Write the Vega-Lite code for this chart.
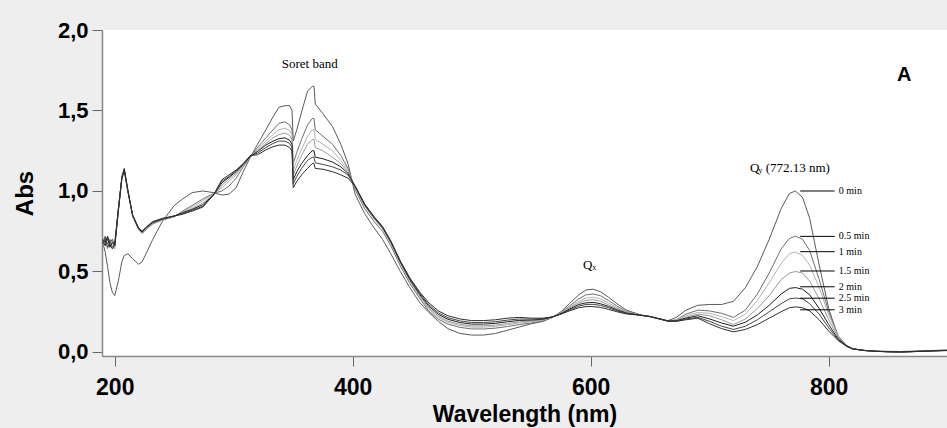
{
"$schema":"https://vega.github.io/schema/vega-lite/v6.json",
"width":845,"height":326,
"autosize":{"type":"none"},
"padding":{"left":102,"top":30,"right":0,"bottom":72},
"background":"#eeeeee",
"config":{"view":{"fill":"white","stroke":null},"font":"Liberation Sans"},
"datasets":{
"spectra":[
{"m":0,"w":190,"a":0.68},{"m":0,"w":192,"a":0.62},{"m":0,"w":194,"a":0.53},{"m":0,"w":196,"a":0.43},{"m":0,"w":198,"a":0.37},{"m":0,"w":200,"a":0.35},{"m":0,"w":203,"a":0.44},{"m":0,"w":206,"a":0.56},{"m":0,"w":208,"a":0.60},{"m":0,"w":211,"a":0.61},{"m":0,"w":215,"a":0.58},{"m":0,"w":220,"a":0.545},{"m":0,"w":223,"a":0.56},{"m":0,"w":227,"a":0.62},{"m":0,"w":232,"a":0.70},{"m":0,"w":240,"a":0.81},{"m":0,"w":250,"a":0.91},{"m":0,"w":257,"a":0.95},{"m":0,"w":265,"a":0.99},{"m":0,"w":274,"a":1.00},{"m":0,"w":283,"a":0.99},{"m":0,"w":290,"a":0.975},{"m":0,"w":296,"a":0.98},{"m":0,"w":302,"a":1.02},{"m":0,"w":308,"a":1.12},{"m":0,"w":314,"a":1.21},{"m":0,"w":320,"a":1.29},{"m":0,"w":327,"a":1.38},{"m":0,"w":333,"a":1.46},{"m":0,"w":338,"a":1.52},{"m":0,"w":343,"a":1.53},{"m":0,"w":347,"a":1.53},{"m":0,"w":349,"a":1.50},{"m":0,"w":350,"a":1.31},{"m":0,"w":353,"a":1.38},{"m":0,"w":357,"a":1.49},{"m":0,"w":362,"a":1.62},{"m":0,"w":366,"a":1.65},{"m":0,"w":367.5,"a":1.65},{"m":0,"w":368.5,"a":1.54},{"m":0,"w":375,"a":1.48},{"m":0,"w":383,"a":1.40},{"m":0,"w":390,"a":1.29},{"m":0,"w":396,"a":1.17},{"m":0,"w":402,"a":0.98},{"m":0,"w":410,"a":0.86},{"m":0,"w":418,"a":0.77},{"m":0,"w":425,"a":0.70},{"m":0,"w":432,"a":0.61},{"m":0,"w":440,"a":0.50},{"m":0,"w":448,"a":0.40},{"m":0,"w":456,"a":0.31},{"m":0,"w":464,"a":0.245},{"m":0,"w":472,"a":0.19},{"m":0,"w":480,"a":0.145},{"m":0,"w":490,"a":0.115},{"m":0,"w":500,"a":0.105},{"m":0,"w":510,"a":0.105},{"m":0,"w":520,"a":0.115},{"m":0,"w":530,"a":0.135},{"m":0,"w":540,"a":0.155},{"m":0,"w":550,"a":0.175},{"m":0,"w":560,"a":0.19},{"m":0,"w":568,"a":0.215},{"m":0,"w":575,"a":0.25},{"m":0,"w":582,"a":0.30},{"m":0,"w":590,"a":0.355},{"m":0,"w":596,"a":0.385},{"m":0,"w":602,"a":0.39},{"m":0,"w":608,"a":0.375},{"m":0,"w":615,"a":0.34},{"m":0,"w":622,"a":0.30},{"m":0,"w":630,"a":0.26},{"m":0,"w":640,"a":0.235},{"m":0,"w":650,"a":0.218},{"m":0,"w":658,"a":0.205},{"m":0,"w":665,"a":0.195},{"m":0,"w":672,"a":0.215},{"m":0,"w":680,"a":0.26},{"m":0,"w":690,"a":0.29},{"m":0,"w":700,"a":0.295},{"m":0,"w":710,"a":0.295},{"m":0,"w":720,"a":0.315},{"m":0,"w":730,"a":0.40},{"m":0,"w":740,"a":0.53},{"m":0,"w":750,"a":0.70},{"m":0,"w":760,"a":0.89},{"m":0,"w":767,"a":0.985},{"m":0,"w":772,"a":1.00},{"m":0,"w":778,"a":0.96},{"m":0,"w":784,"a":0.83},{"m":0,"w":792,"a":0.54},{"m":0,"w":800,"a":0.27},{"m":0,"w":808,"a":0.09},{"m":0,"w":815,"a":0.035},{"m":0,"w":820,"a":0.018},{"m":0,"w":830,"a":0.01},{"m":0,"w":840,"a":0.006},{"m":0,"w":850,"a":0.004},{"m":0,"w":860,"a":0.003},{"m":0,"w":870,"a":0.005},{"m":0,"w":880,"a":0.008},{"m":0,"w":890,"a":0.01},{"m":0,"w":900,"a":0.012},
{"m":0.5,"w":190,"a":0.69},{"m":0.5,"w":192,"a":0.72},{"m":0.5,"w":194,"a":0.67},{"m":0.5,"w":196,"a":0.70},{"m":0.5,"w":198,"a":0.65},{"m":0.5,"w":200,"a":0.67},{"m":0.5,"w":203,"a":0.89},{"m":0.5,"w":206,"a":1.08},{"m":0.5,"w":208,"a":1.13},{"m":0.5,"w":211,"a":1.00},{"m":0.5,"w":215,"a":0.85},{"m":0.5,"w":220,"a":0.765},{"m":0.5,"w":223,"a":0.74},{"m":0.5,"w":227,"a":0.765},{"m":0.5,"w":232,"a":0.795},{"m":0.5,"w":240,"a":0.82},{"m":0.5,"w":250,"a":0.84},{"m":0.5,"w":257,"a":0.875},{"m":0.5,"w":265,"a":0.91},{"m":0.5,"w":274,"a":0.95},{"m":0.5,"w":283,"a":0.985},{"m":0.5,"w":290,"a":1.00},{"m":0.5,"w":296,"a":1.03},{"m":0.5,"w":302,"a":1.08},{"m":0.5,"w":308,"a":1.15},{"m":0.5,"w":314,"a":1.21},{"m":0.5,"w":320,"a":1.27},{"m":0.5,"w":327,"a":1.33},{"m":0.5,"w":333,"a":1.38},{"m":0.5,"w":338,"a":1.42},{"m":0.5,"w":343,"a":1.43},{"m":0.5,"w":347,"a":1.41},{"m":0.5,"w":349,"a":1.38},{"m":0.5,"w":350,"a":1.17},{"m":0.5,"w":353,"a":1.24},{"m":0.5,"w":357,"a":1.32},{"m":0.5,"w":362,"a":1.41},{"m":0.5,"w":366,"a":1.45},{"m":0.5,"w":367.5,"a":1.45},{"m":0.5,"w":368.5,"a":1.38},{"m":0.5,"w":375,"a":1.34},{"m":0.5,"w":383,"a":1.29},{"m":0.5,"w":390,"a":1.22},{"m":0.5,"w":396,"a":1.14},{"m":0.5,"w":402,"a":1.01},{"m":0.5,"w":410,"a":0.89},{"m":0.5,"w":418,"a":0.81},{"m":0.5,"w":425,"a":0.75},{"m":0.5,"w":432,"a":0.66},{"m":0.5,"w":440,"a":0.535},{"m":0.5,"w":448,"a":0.425},{"m":0.5,"w":456,"a":0.335},{"m":0.5,"w":464,"a":0.253},{"m":0.5,"w":472,"a":0.203},{"m":0.5,"w":480,"a":0.173},{"m":0.5,"w":490,"a":0.153},{"m":0.5,"w":500,"a":0.143},{"m":0.5,"w":510,"a":0.143},{"m":0.5,"w":520,"a":0.148},{"m":0.5,"w":530,"a":0.158},{"m":0.5,"w":540,"a":0.17},{"m":0.5,"w":550,"a":0.18},{"m":0.5,"w":560,"a":0.195},{"m":0.5,"w":568,"a":0.218},{"m":0.5,"w":575,"a":0.245},{"m":0.5,"w":582,"a":0.285},{"m":0.5,"w":590,"a":0.33},{"m":0.5,"w":596,"a":0.355},{"m":0.5,"w":602,"a":0.36},{"m":0.5,"w":608,"a":0.35},{"m":0.5,"w":615,"a":0.32},{"m":0.5,"w":622,"a":0.285},{"m":0.5,"w":630,"a":0.252},{"m":0.5,"w":640,"a":0.23},{"m":0.5,"w":650,"a":0.22},{"m":0.5,"w":658,"a":0.205},{"m":0.5,"w":665,"a":0.192},{"m":0.5,"w":672,"a":0.20},{"m":0.5,"w":680,"a":0.235},{"m":0.5,"w":690,"a":0.26},{"m":0.5,"w":700,"a":0.255},{"m":0.5,"w":710,"a":0.24},{"m":0.5,"w":720,"a":0.215},{"m":0.5,"w":730,"a":0.26},{"m":0.5,"w":740,"a":0.36},{"m":0.5,"w":750,"a":0.49},{"m":0.5,"w":760,"a":0.64},{"m":0.5,"w":767,"a":0.705},{"m":0.5,"w":772,"a":0.72},{"m":0.5,"w":778,"a":0.70},{"m":0.5,"w":784,"a":0.63},{"m":0.5,"w":792,"a":0.45},{"m":0.5,"w":800,"a":0.25},{"m":0.5,"w":808,"a":0.10},{"m":0.5,"w":815,"a":0.04},{"m":0.5,"w":820,"a":0.02},{"m":0.5,"w":830,"a":0.01},{"m":0.5,"w":840,"a":0.005},{"m":0.5,"w":850,"a":0.002},{"m":0.5,"w":860,"a":0.001},{"m":0.5,"w":870,"a":0.003},{"m":0.5,"w":880,"a":0.006},{"m":0.5,"w":890,"a":0.009},{"m":0.5,"w":900,"a":0.011},
{"m":1,"w":190,"a":0.71},{"m":1,"w":192,"a":0.67},{"m":1,"w":194,"a":0.70},{"m":1,"w":196,"a":0.66},{"m":1,"w":198,"a":0.69},{"m":1,"w":200,"a":0.65},{"m":1,"w":203,"a":0.87},{"m":1,"w":206,"a":1.07},{"m":1,"w":208,"a":1.12},{"m":1,"w":211,"a":1.00},{"m":1,"w":215,"a":0.85},{"m":1,"w":220,"a":0.77},{"m":1,"w":223,"a":0.745},{"m":1,"w":227,"a":0.77},{"m":1,"w":232,"a":0.80},{"m":1,"w":240,"a":0.82},{"m":1,"w":250,"a":0.84},{"m":1,"w":257,"a":0.87},{"m":1,"w":265,"a":0.90},{"m":1,"w":274,"a":0.94},{"m":1,"w":283,"a":0.98},{"m":1,"w":290,"a":1.02},{"m":1,"w":296,"a":1.06},{"m":1,"w":302,"a":1.10},{"m":1,"w":308,"a":1.16},{"m":1,"w":314,"a":1.21},{"m":1,"w":320,"a":1.26},{"m":1,"w":327,"a":1.31},{"m":1,"w":333,"a":1.35},{"m":1,"w":338,"a":1.38},{"m":1,"w":343,"a":1.39},{"m":1,"w":347,"a":1.375},{"m":1,"w":349,"a":1.35},{"m":1,"w":350,"a":1.13},{"m":1,"w":353,"a":1.19},{"m":1,"w":357,"a":1.26},{"m":1,"w":362,"a":1.34},{"m":1,"w":366,"a":1.38},{"m":1,"w":367.5,"a":1.38},{"m":1,"w":368.5,"a":1.32},{"m":1,"w":375,"a":1.29},{"m":1,"w":383,"a":1.25},{"m":1,"w":390,"a":1.19},{"m":1,"w":396,"a":1.13},{"m":1,"w":402,"a":1.02},{"m":1,"w":410,"a":0.905},{"m":1,"w":418,"a":0.825},{"m":1,"w":425,"a":0.765},{"m":1,"w":432,"a":0.675},{"m":1,"w":440,"a":0.55},{"m":1,"w":448,"a":0.438},{"m":1,"w":456,"a":0.345},{"m":1,"w":464,"a":0.264},{"m":1,"w":472,"a":0.214},{"m":1,"w":480,"a":0.184},{"m":1,"w":490,"a":0.164},{"m":1,"w":500,"a":0.154},{"m":1,"w":510,"a":0.154},{"m":1,"w":520,"a":0.159},{"m":1,"w":530,"a":0.169},{"m":1,"w":540,"a":0.18},{"m":1,"w":550,"a":0.187},{"m":1,"w":560,"a":0.198},{"m":1,"w":568,"a":0.218},{"m":1,"w":575,"a":0.243},{"m":1,"w":582,"a":0.278},{"m":1,"w":590,"a":0.315},{"m":1,"w":596,"a":0.335},{"m":1,"w":602,"a":0.34},{"m":1,"w":608,"a":0.33},{"m":1,"w":615,"a":0.305},{"m":1,"w":622,"a":0.275},{"m":1,"w":630,"a":0.248},{"m":1,"w":640,"a":0.23},{"m":1,"w":650,"a":0.22},{"m":1,"w":658,"a":0.205},{"m":1,"w":665,"a":0.192},{"m":1,"w":672,"a":0.198},{"m":1,"w":680,"a":0.225},{"m":1,"w":690,"a":0.245},{"m":1,"w":700,"a":0.24},{"m":1,"w":710,"a":0.22},{"m":1,"w":720,"a":0.195},{"m":1,"w":730,"a":0.235},{"m":1,"w":740,"a":0.32},{"m":1,"w":750,"a":0.43},{"m":1,"w":760,"a":0.55},{"m":1,"w":767,"a":0.61},{"m":1,"w":772,"a":0.62},{"m":1,"w":778,"a":0.60},{"m":1,"w":784,"a":0.54},{"m":1,"w":792,"a":0.40},{"m":1,"w":800,"a":0.23},{"m":1,"w":808,"a":0.095},{"m":1,"w":815,"a":0.04},{"m":1,"w":820,"a":0.02},{"m":1,"w":830,"a":0.009},{"m":1,"w":840,"a":0.004},{"m":1,"w":850,"a":0.001},{"m":1,"w":860,"a":0.0},{"m":1,"w":870,"a":0.002},{"m":1,"w":880,"a":0.005},{"m":1,"w":890,"a":0.008},{"m":1,"w":900,"a":0.01},
{"m":1.5,"w":190,"a":0.66},{"m":1.5,"w":192,"a":0.70},{"m":1.5,"w":194,"a":0.64},{"m":1.5,"w":196,"a":0.69},{"m":1.5,"w":198,"a":0.66},{"m":1.5,"w":200,"a":0.64},{"m":1.5,"w":203,"a":0.88},{"m":1.5,"w":206,"a":1.08},{"m":1.5,"w":208,"a":1.13},{"m":1.5,"w":211,"a":1.00},{"m":1.5,"w":215,"a":0.84},{"m":1.5,"w":220,"a":0.76},{"m":1.5,"w":223,"a":0.735},{"m":1.5,"w":227,"a":0.765},{"m":1.5,"w":232,"a":0.80},{"m":1.5,"w":240,"a":0.82},{"m":1.5,"w":250,"a":0.84},{"m":1.5,"w":257,"a":0.865},{"m":1.5,"w":265,"a":0.89},{"m":1.5,"w":274,"a":0.925},{"m":1.5,"w":283,"a":0.975},{"m":1.5,"w":290,"a":1.035},{"m":1.5,"w":296,"a":1.075},{"m":1.5,"w":302,"a":1.11},{"m":1.5,"w":308,"a":1.16},{"m":1.5,"w":314,"a":1.21},{"m":1.5,"w":320,"a":1.25},{"m":1.5,"w":327,"a":1.295},{"m":1.5,"w":333,"a":1.33},{"m":1.5,"w":338,"a":1.35},{"m":1.5,"w":343,"a":1.36},{"m":1.5,"w":347,"a":1.345},{"m":1.5,"w":349,"a":1.32},{"m":1.5,"w":350,"a":1.10},{"m":1.5,"w":353,"a":1.155},{"m":1.5,"w":357,"a":1.22},{"m":1.5,"w":362,"a":1.29},{"m":1.5,"w":366,"a":1.32},{"m":1.5,"w":367.5,"a":1.32},{"m":1.5,"w":368.5,"a":1.27},{"m":1.5,"w":375,"a":1.25},{"m":1.5,"w":383,"a":1.21},{"m":1.5,"w":390,"a":1.17},{"m":1.5,"w":396,"a":1.12},{"m":1.5,"w":402,"a":1.03},{"m":1.5,"w":410,"a":0.91},{"m":1.5,"w":418,"a":0.83},{"m":1.5,"w":425,"a":0.77},{"m":1.5,"w":432,"a":0.68},{"m":1.5,"w":440,"a":0.555},{"m":1.5,"w":448,"a":0.444},{"m":1.5,"w":456,"a":0.353},{"m":1.5,"w":464,"a":0.272},{"m":1.5,"w":472,"a":0.222},{"m":1.5,"w":480,"a":0.192},{"m":1.5,"w":490,"a":0.172},{"m":1.5,"w":500,"a":0.162},{"m":1.5,"w":510,"a":0.162},{"m":1.5,"w":520,"a":0.167},{"m":1.5,"w":530,"a":0.177},{"m":1.5,"w":540,"a":0.187},{"m":1.5,"w":550,"a":0.192},{"m":1.5,"w":560,"a":0.201},{"m":1.5,"w":568,"a":0.218},{"m":1.5,"w":575,"a":0.24},{"m":1.5,"w":582,"a":0.272},{"m":1.5,"w":590,"a":0.305},{"m":1.5,"w":596,"a":0.32},{"m":1.5,"w":602,"a":0.325},{"m":1.5,"w":608,"a":0.315},{"m":1.5,"w":615,"a":0.293},{"m":1.5,"w":622,"a":0.268},{"m":1.5,"w":630,"a":0.245},{"m":1.5,"w":640,"a":0.23},{"m":1.5,"w":650,"a":0.22},{"m":1.5,"w":658,"a":0.205},{"m":1.5,"w":665,"a":0.192},{"m":1.5,"w":672,"a":0.196},{"m":1.5,"w":680,"a":0.215},{"m":1.5,"w":690,"a":0.235},{"m":1.5,"w":700,"a":0.225},{"m":1.5,"w":710,"a":0.20},{"m":1.5,"w":720,"a":0.17},{"m":1.5,"w":730,"a":0.205},{"m":1.5,"w":740,"a":0.27},{"m":1.5,"w":750,"a":0.35},{"m":1.5,"w":760,"a":0.45},{"m":1.5,"w":767,"a":0.49},{"m":1.5,"w":772,"a":0.50},{"m":1.5,"w":778,"a":0.49},{"m":1.5,"w":784,"a":0.44},{"m":1.5,"w":792,"a":0.33},{"m":1.5,"w":800,"a":0.20},{"m":1.5,"w":808,"a":0.09},{"m":1.5,"w":815,"a":0.04},{"m":1.5,"w":820,"a":0.02},{"m":1.5,"w":830,"a":0.009},{"m":1.5,"w":840,"a":0.004},{"m":1.5,"w":850,"a":0.002},{"m":1.5,"w":860,"a":0.001},{"m":1.5,"w":870,"a":0.003},{"m":1.5,"w":880,"a":0.005},{"m":1.5,"w":890,"a":0.008},{"m":1.5,"w":900,"a":0.01},
{"m":2,"w":190,"a":0.69},{"m":2,"w":192,"a":0.66},{"m":2,"w":194,"a":0.71},{"m":2,"w":196,"a":0.65},{"m":2,"w":198,"a":0.68},{"m":2,"w":200,"a":0.66},{"m":2,"w":203,"a":0.88},{"m":2,"w":206,"a":1.09},{"m":2,"w":208,"a":1.14},{"m":2,"w":211,"a":1.01},{"m":2,"w":215,"a":0.85},{"m":2,"w":220,"a":0.765},{"m":2,"w":223,"a":0.745},{"m":2,"w":227,"a":0.775},{"m":2,"w":232,"a":0.805},{"m":2,"w":240,"a":0.825},{"m":2,"w":250,"a":0.845},{"m":2,"w":257,"a":0.865},{"m":2,"w":265,"a":0.885},{"m":2,"w":274,"a":0.915},{"m":2,"w":283,"a":0.975},{"m":2,"w":290,"a":1.05},{"m":2,"w":296,"a":1.085},{"m":2,"w":302,"a":1.12},{"m":2,"w":308,"a":1.165},{"m":2,"w":314,"a":1.215},{"m":2,"w":320,"a":1.245},{"m":2,"w":327,"a":1.285},{"m":2,"w":333,"a":1.31},{"m":2,"w":338,"a":1.325},{"m":2,"w":343,"a":1.33},{"m":2,"w":347,"a":1.315},{"m":2,"w":349,"a":1.29},{"m":2,"w":350,"a":1.07},{"m":2,"w":353,"a":1.12},{"m":2,"w":357,"a":1.17},{"m":2,"w":362,"a":1.22},{"m":2,"w":366,"a":1.25},{"m":2,"w":367.5,"a":1.25},{"m":2,"w":368.5,"a":1.21},{"m":2,"w":375,"a":1.20},{"m":2,"w":383,"a":1.18},{"m":2,"w":390,"a":1.15},{"m":2,"w":396,"a":1.11},{"m":2,"w":402,"a":1.03},{"m":2,"w":410,"a":0.914},{"m":2,"w":418,"a":0.834},{"m":2,"w":425,"a":0.774},{"m":2,"w":432,"a":0.684},{"m":2,"w":440,"a":0.559},{"m":2,"w":448,"a":0.45},{"m":2,"w":456,"a":0.36},{"m":2,"w":464,"a":0.283},{"m":2,"w":472,"a":0.233},{"m":2,"w":480,"a":0.203},{"m":2,"w":490,"a":0.183},{"m":2,"w":500,"a":0.173},{"m":2,"w":510,"a":0.173},{"m":2,"w":520,"a":0.178},{"m":2,"w":530,"a":0.188},{"m":2,"w":540,"a":0.196},{"m":2,"w":550,"a":0.198},{"m":2,"w":560,"a":0.204},{"m":2,"w":568,"a":0.218},{"m":2,"w":575,"a":0.238},{"m":2,"w":582,"a":0.266},{"m":2,"w":590,"a":0.295},{"m":2,"w":596,"a":0.305},{"m":2,"w":602,"a":0.308},{"m":2,"w":608,"a":0.30},{"m":2,"w":615,"a":0.283},{"m":2,"w":622,"a":0.262},{"m":2,"w":630,"a":0.242},{"m":2,"w":640,"a":0.23},{"m":2,"w":650,"a":0.22},{"m":2,"w":658,"a":0.205},{"m":2,"w":665,"a":0.192},{"m":2,"w":672,"a":0.194},{"m":2,"w":680,"a":0.21},{"m":2,"w":690,"a":0.225},{"m":2,"w":700,"a":0.205},{"m":2,"w":710,"a":0.18},{"m":2,"w":720,"a":0.16},{"m":2,"w":730,"a":0.185},{"m":2,"w":740,"a":0.23},{"m":2,"w":750,"a":0.29},{"m":2,"w":760,"a":0.36},{"m":2,"w":767,"a":0.395},{"m":2,"w":772,"a":0.40},{"m":2,"w":778,"a":0.39},{"m":2,"w":784,"a":0.355},{"m":2,"w":792,"a":0.27},{"m":2,"w":800,"a":0.17},{"m":2,"w":808,"a":0.08},{"m":2,"w":815,"a":0.04},{"m":2,"w":820,"a":0.02},{"m":2,"w":830,"a":0.009},{"m":2,"w":840,"a":0.004},{"m":2,"w":850,"a":0.002},{"m":2,"w":860,"a":0.0},{"m":2,"w":870,"a":0.002},{"m":2,"w":880,"a":0.005},{"m":2,"w":890,"a":0.008},{"m":2,"w":900,"a":0.01},
{"m":2.5,"w":190,"a":0.67},{"m":2.5,"w":192,"a":0.71},{"m":2.5,"w":194,"a":0.65},{"m":2.5,"w":196,"a":0.68},{"m":2.5,"w":198,"a":0.70},{"m":2.5,"w":200,"a":0.66},{"m":2.5,"w":203,"a":0.87},{"m":2.5,"w":206,"a":1.08},{"m":2.5,"w":208,"a":1.13},{"m":2.5,"w":211,"a":1.00},{"m":2.5,"w":215,"a":0.85},{"m":2.5,"w":220,"a":0.77},{"m":2.5,"w":223,"a":0.75},{"m":2.5,"w":227,"a":0.775},{"m":2.5,"w":232,"a":0.805},{"m":2.5,"w":240,"a":0.825},{"m":2.5,"w":250,"a":0.845},{"m":2.5,"w":257,"a":0.86},{"m":2.5,"w":265,"a":0.88},{"m":2.5,"w":274,"a":0.905},{"m":2.5,"w":283,"a":0.975},{"m":2.5,"w":290,"a":1.06},{"m":2.5,"w":296,"a":1.09},{"m":2.5,"w":302,"a":1.125},{"m":2.5,"w":308,"a":1.17},{"m":2.5,"w":314,"a":1.22},{"m":2.5,"w":320,"a":1.235},{"m":2.5,"w":327,"a":1.27},{"m":2.5,"w":333,"a":1.295},{"m":2.5,"w":338,"a":1.31},{"m":2.5,"w":343,"a":1.31},{"m":2.5,"w":347,"a":1.295},{"m":2.5,"w":349,"a":1.27},{"m":2.5,"w":350,"a":1.045},{"m":2.5,"w":353,"a":1.09},{"m":2.5,"w":357,"a":1.14},{"m":2.5,"w":362,"a":1.19},{"m":2.5,"w":366,"a":1.21},{"m":2.5,"w":367.5,"a":1.21},{"m":2.5,"w":368.5,"a":1.175},{"m":2.5,"w":375,"a":1.165},{"m":2.5,"w":383,"a":1.15},{"m":2.5,"w":390,"a":1.13},{"m":2.5,"w":396,"a":1.10},{"m":2.5,"w":402,"a":1.03},{"m":2.5,"w":410,"a":0.917},{"m":2.5,"w":418,"a":0.837},{"m":2.5,"w":425,"a":0.777},{"m":2.5,"w":432,"a":0.687},{"m":2.5,"w":440,"a":0.562},{"m":2.5,"w":448,"a":0.455},{"m":2.5,"w":456,"a":0.367},{"m":2.5,"w":464,"a":0.293},{"m":2.5,"w":472,"a":0.243},{"m":2.5,"w":480,"a":0.213},{"m":2.5,"w":490,"a":0.193},{"m":2.5,"w":500,"a":0.183},{"m":2.5,"w":510,"a":0.183},{"m":2.5,"w":520,"a":0.188},{"m":2.5,"w":530,"a":0.198},{"m":2.5,"w":540,"a":0.205},{"m":2.5,"w":550,"a":0.204},{"m":2.5,"w":560,"a":0.207},{"m":2.5,"w":568,"a":0.218},{"m":2.5,"w":575,"a":0.236},{"m":2.5,"w":582,"a":0.26},{"m":2.5,"w":590,"a":0.285},{"m":2.5,"w":596,"a":0.295},{"m":2.5,"w":602,"a":0.296},{"m":2.5,"w":608,"a":0.29},{"m":2.5,"w":615,"a":0.275},{"m":2.5,"w":622,"a":0.256},{"m":2.5,"w":630,"a":0.239},{"m":2.5,"w":640,"a":0.23},{"m":2.5,"w":650,"a":0.22},{"m":2.5,"w":658,"a":0.205},{"m":2.5,"w":665,"a":0.192},{"m":2.5,"w":672,"a":0.192},{"m":2.5,"w":680,"a":0.205},{"m":2.5,"w":690,"a":0.215},{"m":2.5,"w":700,"a":0.19},{"m":2.5,"w":710,"a":0.16},{"m":2.5,"w":720,"a":0.14},{"m":2.5,"w":730,"a":0.16},{"m":2.5,"w":740,"a":0.20},{"m":2.5,"w":750,"a":0.25},{"m":2.5,"w":760,"a":0.30},{"m":2.5,"w":767,"a":0.33},{"m":2.5,"w":772,"a":0.335},{"m":2.5,"w":778,"a":0.33},{"m":2.5,"w":784,"a":0.30},{"m":2.5,"w":792,"a":0.235},{"m":2.5,"w":800,"a":0.15},{"m":2.5,"w":808,"a":0.075},{"m":2.5,"w":815,"a":0.038},{"m":2.5,"w":820,"a":0.02},{"m":2.5,"w":830,"a":0.009},{"m":2.5,"w":840,"a":0.004},{"m":2.5,"w":850,"a":0.001},{"m":2.5,"w":860,"a":0.0},{"m":2.5,"w":870,"a":0.002},{"m":2.5,"w":880,"a":0.005},{"m":2.5,"w":890,"a":0.007},{"m":2.5,"w":900,"a":0.009},
{"m":3,"w":190,"a":0.70},{"m":3,"w":192,"a":0.68},{"m":3,"w":194,"a":0.72},{"m":3,"w":196,"a":0.67},{"m":3,"w":198,"a":0.64},{"m":3,"w":200,"a":0.67},{"m":3,"w":203,"a":0.88},{"m":3,"w":206,"a":1.08},{"m":3,"w":208,"a":1.13},{"m":3,"w":211,"a":1.00},{"m":3,"w":215,"a":0.85},{"m":3,"w":220,"a":0.77},{"m":3,"w":223,"a":0.75},{"m":3,"w":227,"a":0.78},{"m":3,"w":232,"a":0.81},{"m":3,"w":240,"a":0.83},{"m":3,"w":250,"a":0.845},{"m":3,"w":257,"a":0.855},{"m":3,"w":265,"a":0.875},{"m":3,"w":274,"a":0.90},{"m":3,"w":283,"a":0.975},{"m":3,"w":290,"a":1.07},{"m":3,"w":296,"a":1.10},{"m":3,"w":302,"a":1.13},{"m":3,"w":308,"a":1.17},{"m":3,"w":314,"a":1.22},{"m":3,"w":320,"a":1.225},{"m":3,"w":327,"a":1.255},{"m":3,"w":333,"a":1.275},{"m":3,"w":338,"a":1.285},{"m":3,"w":343,"a":1.285},{"m":3,"w":347,"a":1.27},{"m":3,"w":349,"a":1.245},{"m":3,"w":350,"a":1.02},{"m":3,"w":353,"a":1.06},{"m":3,"w":357,"a":1.10},{"m":3,"w":362,"a":1.14},{"m":3,"w":366,"a":1.17},{"m":3,"w":367.5,"a":1.17},{"m":3,"w":368.5,"a":1.14},{"m":3,"w":375,"a":1.135},{"m":3,"w":383,"a":1.12},{"m":3,"w":390,"a":1.10},{"m":3,"w":396,"a":1.08},{"m":3,"w":402,"a":1.03},{"m":3,"w":410,"a":0.92},{"m":3,"w":418,"a":0.84},{"m":3,"w":425,"a":0.78},{"m":3,"w":432,"a":0.69},{"m":3,"w":440,"a":0.565},{"m":3,"w":448,"a":0.46},{"m":3,"w":456,"a":0.375},{"m":3,"w":464,"a":0.305},{"m":3,"w":472,"a":0.255},{"m":3,"w":480,"a":0.225},{"m":3,"w":490,"a":0.205},{"m":3,"w":500,"a":0.195},{"m":3,"w":510,"a":0.195},{"m":3,"w":520,"a":0.20},{"m":3,"w":530,"a":0.21},{"m":3,"w":540,"a":0.215},{"m":3,"w":550,"a":0.21},{"m":3,"w":560,"a":0.21},{"m":3,"w":568,"a":0.218},{"m":3,"w":575,"a":0.235},{"m":3,"w":582,"a":0.255},{"m":3,"w":590,"a":0.275},{"m":3,"w":596,"a":0.282},{"m":3,"w":602,"a":0.282},{"m":3,"w":608,"a":0.277},{"m":3,"w":615,"a":0.265},{"m":3,"w":622,"a":0.25},{"m":3,"w":630,"a":0.236},{"m":3,"w":640,"a":0.23},{"m":3,"w":650,"a":0.22},{"m":3,"w":658,"a":0.205},{"m":3,"w":665,"a":0.192},{"m":3,"w":672,"a":0.19},{"m":3,"w":680,"a":0.20},{"m":3,"w":690,"a":0.21},{"m":3,"w":700,"a":0.175},{"m":3,"w":710,"a":0.145},{"m":3,"w":720,"a":0.125},{"m":3,"w":730,"a":0.14},{"m":3,"w":740,"a":0.17},{"m":3,"w":750,"a":0.21},{"m":3,"w":760,"a":0.25},{"m":3,"w":767,"a":0.275},{"m":3,"w":772,"a":0.28},{"m":3,"w":778,"a":0.275},{"m":3,"w":784,"a":0.255},{"m":3,"w":792,"a":0.20},{"m":3,"w":800,"a":0.13},{"m":3,"w":808,"a":0.07},{"m":3,"w":815,"a":0.035},{"m":3,"w":820,"a":0.02},{"m":3,"w":830,"a":0.009},{"m":3,"w":840,"a":0.004},{"m":3,"w":850,"a":0.001},{"m":3,"w":860,"a":0.0},{"m":3,"w":870,"a":0.002},{"m":3,"w":880,"a":0.004},{"m":3,"w":890,"a":0.007},{"m":3,"w":900,"a":0.009}
],
"labels":[
{"lab":"0 min","a":1.0},{"lab":"0.5 min","a":0.718},{"lab":"1 min","a":0.623},{"lab":"1.5 min","a":0.503},{"lab":"2 min","a":0.405},{"lab":"2.5 min","a":0.334},{"lab":"3 min","a":0.262}
],
"notes":[
{"t":"Soret band","w":340.3,"a":1.787},{"t":"Q","w":593.5,"a":0.54},{"t":"Q","w":733.9,"a":1.143},{"t":"(772.13 nm)","w":747.0,"a":1.143}
],
"subs":[
{"t":"x","w":601.3,"a":0.523},{"t":"y","w":741.0,"a":1.122}
],
"panel":[{"t":"A","w":863.5,"a":1.72}]
},
"layer":[
{"data":{"name":"spectra"},
 "mark":{"type":"line","strokeWidth":1,"clip":true},
 "encoding":{
  "x":{"field":"w","type":"quantitative",
   "scale":{"domain":[189.3,899.4],"nice":false,"zero":false},
   "axis":{"values":[200,400,600,800],"title":"Wavelength (nm)","grid":false,"labelFlush":false,
    "labelFont":"Liberation Sans","labelFontWeight":"bold","labelFontSize":23,"labelColor":"black","labelPadding":10,
    "titleFont":"Liberation Sans","titleFontWeight":"bold","titleFontSize":23,"titleColor":"black","titlePadding":4,
    "tickSize":10,"tickColor":"#666666","domainColor":"#888888","domainWidth":1.5}},
  "y":{"field":"a","type":"quantitative",
   "scale":{"domain":[-0.025,2.0],"nice":false,"zero":false},
   "axis":{"values":[0,0.5,1,1.5,2],"labelExpr":"replace(format(datum.value,'.1f'),'.',',')","title":"Abs","grid":false,
    "labelFont":"Liberation Sans","labelFontWeight":"bold","labelFontSize":22,"labelColor":"black","labelPadding":4,
    "titleFont":"Liberation Sans","titleFontWeight":"bold","titleFontSize":24,"titleColor":"black","titlePadding":20,
    "tickSize":10,"tickColor":"#666666","domainColor":"#888888","domainWidth":1.5}},
  "color":{"field":"m","type":"nominal","legend":null,
   "scale":{"domain":[0,0.5,1,1.5,2,2.5,3],"range":["#5a5a5a","#6e6e6e","#b4b4b4","#9a9a9a","#1e1e1e","#454545","#2e2e2e"]}}
 }},
{"data":{"name":"labels"},
 "mark":{"type":"rule","color":"black","strokeWidth":1},
 "encoding":{"x":{"datum":776,"type":"quantitative"},"x2":{"datum":805},"y":{"field":"a","type":"quantitative"}}},
{"data":{"name":"labels"},
 "mark":{"type":"text","align":"left","baseline":"middle","font":"Liberation Serif","fontSize":10,"color":"black"},
 "encoding":{"x":{"datum":808.5,"type":"quantitative"},"y":{"field":"a","type":"quantitative"},"text":{"field":"lab"}}},
{"data":{"name":"notes"},
 "mark":{"type":"text","align":"left","baseline":"middle","font":"Liberation Serif","fontSize":13,"color":"black"},
 "encoding":{"x":{"field":"w","type":"quantitative"},"y":{"field":"a","type":"quantitative"},"text":{"field":"t"}}},
{"data":{"name":"subs"},
 "mark":{"type":"text","align":"left","baseline":"middle","font":"Liberation Serif","fontSize":8,"color":"black"},
 "encoding":{"x":{"field":"w","type":"quantitative"},"y":{"field":"a","type":"quantitative"},"text":{"field":"t"}}},
{"data":{"name":"panel"},
 "mark":{"type":"text","align":"center","baseline":"middle","font":"Liberation Sans","fontWeight":"bold","fontSize":20,"color":"black"},
 "encoding":{"x":{"field":"w","type":"quantitative"},"y":{"field":"a","type":"quantitative"},"text":{"field":"t"}}}
]
}
